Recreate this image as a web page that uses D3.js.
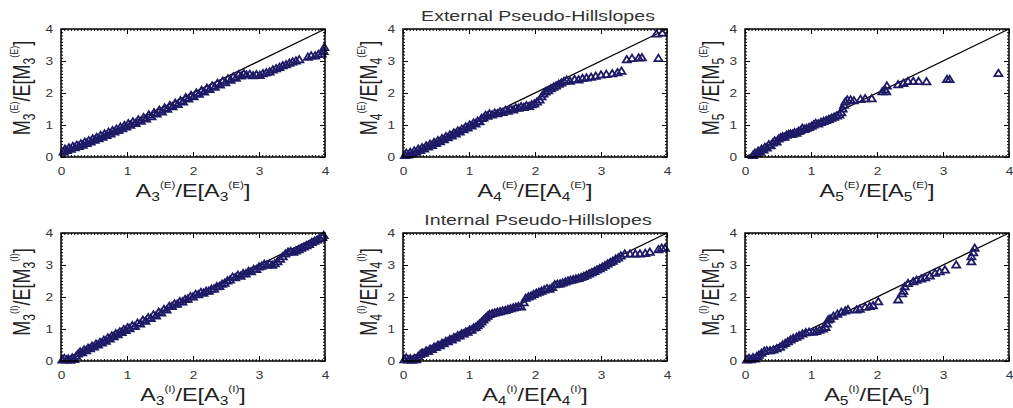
<!DOCTYPE html>
<html>
<head>
<meta charset="utf-8">
<script src="https://cdn.jsdelivr.net/npm/d3@7"></script>
<style>
  body { margin: 0; background: #fff; }
  text { font-family: 'Liberation Sans', Arial, Helvetica, sans-serif; }
</style>
</head>
<body>
<svg width="1013" height="408"></svg>
<script>
// points, [A/E[A], M/E[M]]
const ext3 = [[0.04,0.16],[0.06,0.24],[0.09,0.20],[0.12,0.28],[0.15,0.24],[0.18,0.33],[0.21,0.29],[0.24,0.37],[0.27,0.33],[0.30,0.41],[0.33,0.37],[0.36,0.46],[0.39,0.42],[0.42,0.51],[0.45,0.47],[0.48,0.56],[0.51,0.52],[0.54,0.61],[0.57,0.57],[0.60,0.67],[0.63,0.62],[0.66,0.72],[0.69,0.67],[0.72,0.77],[0.75,0.72],[0.78,0.82],[0.81,0.78],[0.84,0.87],[0.87,0.83],[0.90,0.93],[0.93,0.88],[0.96,0.98],[0.99,0.94],[1.02,1.04],[1.05,0.99],[1.09,1.09],[1.13,1.05],[1.17,1.16],[1.21,1.12],[1.25,1.23],[1.29,1.19],[1.33,1.31],[1.37,1.26],[1.41,1.38],[1.45,1.34],[1.49,1.46],[1.53,1.41],[1.57,1.53],[1.61,1.49],[1.65,1.61],[1.69,1.57],[1.73,1.68],[1.77,1.64],[1.81,1.76],[1.85,1.72],[1.89,1.85],[1.93,1.81],[1.97,1.92],[2.01,1.88],[2.05,2.00],[2.09,1.96],[2.13,2.08],[2.17,2.03],[2.21,2.15],[2.25,2.11],[2.29,2.22],[2.33,2.18],[2.37,2.30],[2.41,2.25],[2.45,2.37],[2.49,2.32],[2.53,2.44],[2.57,2.40],[2.61,2.50],[2.65,2.46],[2.69,2.57],[2.73,2.53],[2.77,2.60],[2.81,2.56],[2.86,2.58],[2.91,2.54],[2.96,2.57],[3.01,2.55],[3.06,2.60],[3.11,2.63],[3.16,2.66],[3.21,2.72],[3.26,2.76],[3.31,2.80],[3.36,2.85],[3.41,2.88],[3.46,2.93],[3.51,2.97],[3.56,3.00],[3.61,3.04],[3.74,3.12],[3.79,3.16],[3.85,3.16],[3.90,3.20],[3.95,3.22],[3.98,3.30],[3.99,3.42]];
const ext4 = [[0.03,0.05],[0.05,0.12],[0.08,0.06],[0.11,0.14],[0.14,0.10],[0.17,0.19],[0.20,0.15],[0.23,0.24],[0.26,0.20],[0.29,0.29],[0.32,0.25],[0.35,0.34],[0.38,0.31],[0.41,0.40],[0.44,0.36],[0.47,0.45],[0.50,0.42],[0.53,0.51],[0.56,0.48],[0.59,0.57],[0.62,0.54],[0.65,0.63],[0.68,0.60],[0.71,0.69],[0.74,0.66],[0.77,0.75],[0.80,0.72],[0.83,0.81],[0.86,0.78],[0.89,0.87],[0.92,0.85],[0.95,0.94],[0.98,0.91],[1.01,1.00],[1.04,0.97],[1.07,1.06],[1.10,1.03],[1.13,1.12],[1.16,1.10],[1.19,1.20],[1.22,1.22],[1.25,1.30],[1.28,1.27],[1.31,1.34],[1.35,1.31],[1.39,1.37],[1.43,1.35],[1.47,1.41],[1.51,1.39],[1.55,1.45],[1.59,1.43],[1.63,1.49],[1.67,1.47],[1.71,1.53],[1.75,1.52],[1.79,1.57],[1.83,1.55],[1.87,1.60],[1.91,1.58],[1.95,1.63],[1.99,1.66],[2.03,1.72],[2.07,1.78],[2.10,1.88],[2.13,1.97],[2.16,2.03],[2.20,2.07],[2.24,2.13],[2.28,2.18],[2.32,2.22],[2.36,2.27],[2.40,2.31],[2.44,2.36],[2.48,2.40],[2.53,2.37],[2.60,2.42],[2.66,2.41],[2.72,2.45],[2.78,2.47],[2.85,2.49],[2.92,2.52],[3.00,2.56],[3.08,2.58],[3.17,2.60],[3.25,2.63],[3.31,2.68],[3.39,3.04],[3.47,3.08],[3.57,3.09],[3.62,3.10],[3.87,3.08],[3.84,3.84],[3.93,3.87]];
const ext5 = [[0.12,0.05],[0.15,0.12],[0.18,0.10],[0.20,0.18],[0.23,0.15],[0.25,0.24],[0.28,0.22],[0.30,0.30],[0.33,0.28],[0.36,0.38],[0.39,0.35],[0.42,0.44],[0.45,0.50],[0.48,0.47],[0.51,0.56],[0.54,0.60],[0.57,0.63],[0.60,0.62],[0.63,0.68],[0.66,0.70],[0.69,0.72],[0.72,0.71],[0.75,0.76],[0.78,0.74],[0.81,0.80],[0.84,0.82],[0.87,0.90],[0.90,0.86],[0.93,0.89],[0.97,0.92],[1.01,0.96],[1.04,1.00],[1.07,1.05],[1.11,1.03],[1.15,1.08],[1.19,1.11],[1.23,1.14],[1.27,1.17],[1.31,1.21],[1.35,1.24],[1.39,1.28],[1.43,1.31],[1.46,1.38],[1.48,1.50],[1.50,1.62],[1.52,1.72],[1.55,1.78],[1.60,1.78],[1.65,1.76],[1.75,1.80],[1.82,1.82],[1.92,1.82],[2.08,2.04],[2.12,2.10],[2.15,2.22],[2.14,2.04],[2.32,2.26],[2.40,2.30],[2.47,2.36],[2.55,2.36],[2.63,2.36],[2.75,2.35],[3.06,2.42],[3.10,2.42],[3.84,2.61]];
const int3 = [[0.02,0.03],[0.05,0.08],[0.08,0.03],[0.11,0.06],[0.14,0.02],[0.17,0.09],[0.20,0.05],[0.23,0.15],[0.26,0.22],[0.29,0.28],[0.32,0.26],[0.35,0.34],[0.38,0.32],[0.41,0.40],[0.44,0.38],[0.47,0.46],[0.50,0.44],[0.53,0.52],[0.56,0.50],[0.59,0.58],[0.62,0.56],[0.65,0.65],[0.68,0.62],[0.71,0.72],[0.74,0.69],[0.77,0.78],[0.80,0.76],[0.83,0.85],[0.86,0.82],[0.89,0.91],[0.92,0.89],[0.95,0.98],[0.98,0.95],[1.01,1.04],[1.04,1.01],[1.08,1.10],[1.12,1.08],[1.16,1.18],[1.20,1.16],[1.24,1.27],[1.28,1.24],[1.32,1.35],[1.36,1.33],[1.40,1.44],[1.44,1.41],[1.48,1.52],[1.52,1.50],[1.56,1.61],[1.60,1.59],[1.64,1.70],[1.68,1.70],[1.72,1.78],[1.76,1.77],[1.80,1.85],[1.84,1.84],[1.88,1.92],[1.92,1.93],[1.96,2.01],[2.00,2.00],[2.04,2.08],[2.08,2.07],[2.12,2.14],[2.16,2.12],[2.20,2.18],[2.24,2.18],[2.28,2.24],[2.32,2.25],[2.36,2.32],[2.40,2.33],[2.44,2.40],[2.48,2.43],[2.52,2.50],[2.56,2.53],[2.60,2.62],[2.64,2.60],[2.68,2.68],[2.72,2.65],[2.76,2.73],[2.80,2.72],[2.84,2.80],[2.88,2.79],[2.92,2.86],[2.96,2.86],[3.00,2.94],[3.04,2.96],[3.08,3.02],[3.12,3.00],[3.16,3.03],[3.20,2.99],[3.24,3.04],[3.28,3.10],[3.32,3.18],[3.36,3.26],[3.40,3.34],[3.44,3.40],[3.48,3.42],[3.52,3.40],[3.56,3.44],[3.60,3.48],[3.64,3.52],[3.68,3.56],[3.72,3.60],[3.76,3.64],[3.80,3.70],[3.84,3.74],[3.88,3.78],[3.92,3.82],[3.96,3.86],[3.98,3.92]];
const int4 = [[0.02,0.04],[0.05,0.09],[0.08,0.03],[0.11,0.07],[0.14,0.02],[0.17,0.08],[0.20,0.04],[0.23,0.14],[0.26,0.20],[0.29,0.25],[0.32,0.24],[0.35,0.31],[0.38,0.30],[0.41,0.37],[0.44,0.36],[0.47,0.43],[0.50,0.42],[0.53,0.49],[0.56,0.48],[0.59,0.55],[0.62,0.54],[0.65,0.61],[0.68,0.60],[0.71,0.67],[0.74,0.66],[0.77,0.73],[0.80,0.72],[0.83,0.79],[0.86,0.78],[0.89,0.85],[0.92,0.84],[0.95,0.91],[0.98,0.90],[1.01,0.97],[1.04,0.96],[1.07,1.03],[1.10,1.05],[1.13,1.10],[1.16,1.16],[1.19,1.22],[1.22,1.28],[1.25,1.34],[1.28,1.40],[1.31,1.45],[1.35,1.48],[1.39,1.50],[1.43,1.52],[1.47,1.54],[1.51,1.56],[1.55,1.58],[1.59,1.61],[1.63,1.63],[1.67,1.66],[1.71,1.68],[1.75,1.70],[1.79,1.69],[1.83,1.82],[1.86,1.96],[1.90,2.00],[1.94,2.03],[1.98,2.08],[2.02,2.12],[2.06,2.15],[2.10,2.18],[2.14,2.22],[2.18,2.26],[2.22,2.24],[2.26,2.30],[2.30,2.38],[2.34,2.40],[2.38,2.41],[2.42,2.44],[2.46,2.47],[2.50,2.50],[2.54,2.52],[2.58,2.54],[2.62,2.56],[2.66,2.58],[2.70,2.61],[2.74,2.64],[2.78,2.68],[2.82,2.72],[2.86,2.76],[2.90,2.80],[2.94,2.84],[2.98,2.88],[3.02,2.93],[3.06,2.98],[3.10,3.03],[3.14,3.08],[3.18,3.12],[3.22,3.18],[3.26,3.22],[3.30,3.28],[3.36,3.34],[3.44,3.34],[3.52,3.34],[3.59,3.34],[3.67,3.36],[3.74,3.40],[3.87,3.48],[3.92,3.52],[3.97,3.52]];
const int5 = [[0.03,0.03],[0.06,0.08],[0.09,0.04],[0.12,0.10],[0.15,0.06],[0.18,0.14],[0.21,0.18],[0.25,0.24],[0.29,0.30],[0.33,0.32],[0.38,0.32],[0.43,0.34],[0.48,0.38],[0.53,0.43],[0.57,0.50],[0.61,0.55],[0.65,0.60],[0.69,0.66],[0.73,0.70],[0.78,0.74],[0.82,0.79],[0.87,0.84],[0.92,0.88],[0.97,0.90],[1.03,0.90],[1.08,0.92],[1.13,0.96],[1.18,1.00],[1.22,1.05],[1.24,1.16],[1.26,1.28],[1.29,1.31],[1.34,1.40],[1.40,1.46],[1.46,1.52],[1.52,1.56],[1.56,1.60],[1.69,1.59],[1.74,1.62],[1.82,1.68],[1.89,1.70],[1.94,1.73],[2.02,1.85],[2.32,1.91],[2.38,2.10],[2.40,2.18],[2.42,2.32],[2.47,2.42],[2.55,2.48],[2.60,2.52],[2.67,2.56],[2.73,2.60],[2.80,2.66],[2.88,2.74],[2.95,2.79],[3.03,2.84],[3.20,3.00],[3.43,3.10],[3.43,3.26],[3.46,3.38],[3.48,3.52]];

const majorTicks = [0, 1, 2, 3, 4];
const orders = [3, 4, 5];
const kinds = ['E', 'I'];
const titles = ['External Pseudo-Hillslopes', 'Internal Pseudo-Hillslopes'];

const svg = d3.select('svg');
const lefts = [61, 403, 745], tops = [29, 233];
const yLabOff = [31, 26, 26];
const w = 264, h = 128;
const stretch = 1.3; // the original picture is stretched sideways
const navy = '#1f1a66';
const panels = [[ext3, ext4, ext5], [int3, int4, int5]];

function mathLabel(sel, tx, ty, rotated, sym, n, k) {
  const t = sel.append('text')
    .attr('transform', `translate(${tx},${ty}) scale(${stretch},1)` + (rotated ? ' rotate(-90)' : ''))
    .attr('text-anchor', 'middle')
    .attr('fill', '#222')
    .style('font-size', '18px');
  const parts = [[sym, 0, 18], [n, 4, 12], ['(' + k + ')', -9, 9], ['/E[' + sym, 0, 18], [n, 4, 12], ['(' + k + ')', -9, 9], [']', 0, 18]];
  let prev = 0;
  parts.forEach(([s, off, fs]) => {
    t.append('tspan').attr('dy', off - prev).style('font-size', fs + 'px').text(s);
    prev = off;
  });
}

panels.forEach((row, r) => row.forEach((pts, c) => {
  const g = svg.append('g').attr('transform', `translate(${lefts[c]},${tops[r]})`);
  const x = d3.scaleLinear().domain([0, 4]).range([0, w]);
  const y = d3.scaleLinear().domain([0, 4]).range([h, 0]);

  // minor ticks
  const minorX = d3.range(0, 4.0001, 0.05);
  const minorY = d3.range(0, 4.0001, 0.1);
  g.append('g').attr('transform', `translate(0,${h})`).call(d3.axisBottom(x).tickValues(minorX).tickSize(-2).tickFormat(''));
  g.append('g').call(d3.axisTop(x).tickValues(minorX).tickSize(-2).tickFormat(''));
  g.append('g').call(d3.axisLeft(y).tickValues(minorY).tickSize(-2).tickFormat(''));
  g.append('g').attr('transform', `translate(${w},0)`).call(d3.axisRight(y).tickValues(minorY).tickSize(-2).tickFormat(''));

  // major ticks
  g.append('g').attr('class', 'lab').attr('transform', `translate(0,${h})`)
    .call(d3.axisBottom(x).tickValues(majorTicks).tickSize(-5).tickPadding(11).tickFormat(d3.format('d')));
  g.append('g').call(d3.axisTop(x).tickValues(majorTicks).tickSize(-5).tickFormat(''));
  g.append('g').attr('class', 'lab')
    .call(d3.axisLeft(y).tickValues(majorTicks).tickSize(-5).tickPadding(6).tickFormat(d3.format('d')));
  g.append('g').attr('transform', `translate(${w},0)`).call(d3.axisRight(y).tickValues(majorTicks).tickSize(-5).tickFormat(''));

  g.selectAll('.domain').remove();
  g.selectAll('.tick line').attr('stroke', '#000').attr('stroke-width', 1);
  g.selectAll('.lab text')
    .attr('transform', `scale(${stretch},1)`)
    .attr('fill', '#333')
    .style('font-family', "'Liberation Sans', Arial, sans-serif")
    .style('font-size', '10.5px');

  // 1:1 line
  g.append('line')
    .attr('x1', x(0)).attr('y1', y(0)).attr('x2', x(4)).attr('y2', y(4))
    .attr('stroke', '#000').attr('stroke-width', 1.3);

  // markers
  g.append('g').selectAll('path').data(pts).enter().append('path')
    .attr('transform', d => `translate(${x(d[0])},${y(d[1])})`)
    .attr('d', 'M0,-3.8L4,2.6L-4,2.6Z')
    .attr('fill', 'none')
    .attr('stroke', navy)
    .attr('stroke-width', 1.8);

  // frame
  g.append('rect').attr('width', w).attr('height', h)
    .attr('fill', 'none').attr('stroke', '#000').attr('stroke-width', 1.5);

  mathLabel(g, w / 2, h + 40, false, 'A', orders[c], kinds[r]);
  mathLabel(g, -yLabOff[c], h / 2 - 5, true, 'M', orders[c], kinds[r]);

  if (c === 1) {
    g.append('text')
      .attr('transform', `translate(${w / 2 + 3},-8) scale(1.35,1)`)
      .attr('text-anchor', 'middle')
      .attr('fill', '#333')
      .style('font-size', '14.5px')
      .text(titles[r]);
  }
}));
</script>
</body>
</html>
